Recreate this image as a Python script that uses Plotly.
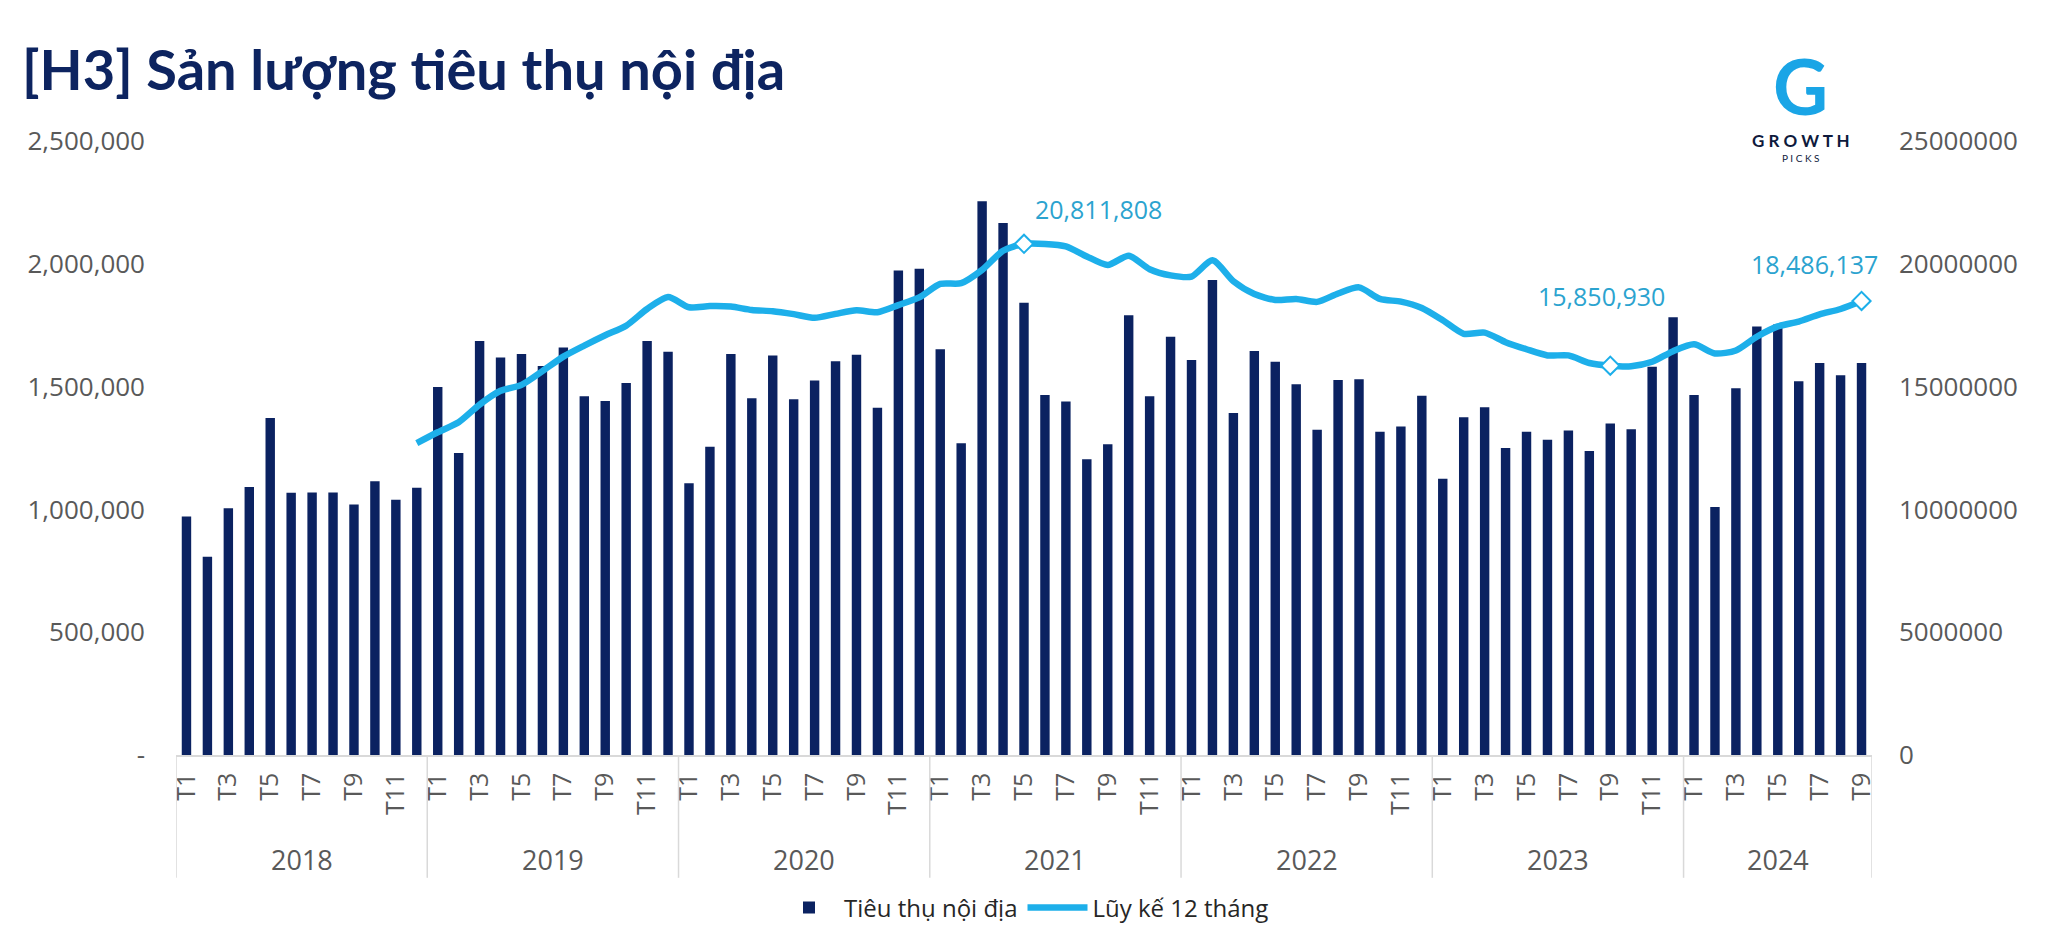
import plotly.graph_objects as go

# ---------------- data ----------------
years = ["2018", "2019", "2020", "2021", "2022", "2023", "2024"]
months_per_year = [12, 12, 12, 12, 12, 12, 9]

consumption_2018 = [971000, 807000, 1005000, 1091000, 1372000, 1068000, 1069000, 1069000, 1020000, 1115000, 1039000, 1088000]
consumption_2019 = [1498000, 1230000, 1686000, 1618000, 1633000, 1584000, 1659000, 1461000, 1441000, 1515000, 1686000, 1642000]
consumption_2020 = [1106000, 1255000, 1633000, 1453000, 1627000, 1449000, 1525000, 1603000, 1630000, 1414000, 1973000, 1980000]
consumption_2021 = [1652000, 1269000, 2255000, 2166000, 1841000, 1466000, 1439000, 1204000, 1265000, 1791000, 1461000, 1703000]
consumption_2022 = [1608000, 1934000, 1392000, 1645000, 1601000, 1510000, 1324000, 1527000, 1530000, 1316000, 1338000, 1463000]
consumption_2023 = [1125000, 1375000, 1416000, 1250000, 1316000, 1284000, 1321000, 1238000, 1350000, 1326000, 1581000, 1782000]
consumption_2024 = [1466000, 1010000, 1493000, 1745000, 1753000, 1522000, 1596000, 1546000, 1596000]

rolling_2018 = [None] * 11 + [12700000]
rolling_2019 = [13140000, 13550000, 14270000, 14830000, 15070000, 15630000, 16220000, 16670000, 17090000, 17480000, 18160000, 18650000]
rolling_2020 = [18230000, 18280000, 18260000, 18120000, 18070000, 17950000, 17800000, 17960000, 18110000, 18030000, 18320000, 18630000]
rolling_2021 = [19180000, 19210000, 19750000, 20530000, 20811808, 20810000, 20710000, 20300000, 19950000, 20330000, 19780000, 19530000]
rolling_2022 = [19480000, 20140000, 19290000, 18770000, 18530000, 18570000, 18450000, 18790000, 19040000, 18570000, 18460000, 18200000]
rolling_2023 = [17700000, 17150000, 17200000, 16810000, 16520000, 16270000, 16270000, 15960000, 15850930, 15830000, 16010000, 16440000]
rolling_2024 = [16720000, 16350000, 16470000, 17030000, 17450000, 17650000, 17940000, 18160000, 18486137]

highlight_year_month = [("2021", 5), ("2023", 9), ("2024", 9)]

left_tick_vals = [0, 500000, 1000000, 1500000, 2000000, 2500000]
left_tick_text = ["-", "500,000", "1,000,000", "1,500,000", "2,000,000", "2,500,000"]
right_tick_vals = [0, 5000000, 10000000, 15000000, 20000000, 25000000]
right_tick_text = ["0", "5000000", "10000000", "15000000", "20000000", "25000000"]

# ---------------- assemble ----------------
consumption = (consumption_2018 + consumption_2019 + consumption_2020 + consumption_2021
               + consumption_2022 + consumption_2023 + consumption_2024)
rolling = (rolling_2018 + rolling_2019 + rolling_2020 + rolling_2021
           + rolling_2022 + rolling_2023 + rolling_2024)

x_idx = []
month_lbl = []
year_start = {}
i = 0
for y, n in zip(years, months_per_year):
    year_start[y] = i
    for m in range(1, n + 1):
        x_idx.append(i)
        month_lbl.append(f"T{m}")
        i += 1

tick_vals = [x for x, m in zip(x_idx, month_lbl) if int(m[1:]) % 2 == 1]
tick_text = [m for m in month_lbl if int(m[1:]) % 2 == 1]

BAR = "#0B2261"
LINE = "#1DAFEA"
LABEL = "#2BA3CF"
GRID = "#D9D9D9"
TICK = "#595959"
FONT = "Open Sans"

W, H = 2048, 951
ML, MR, MT, MB = 176, 176, 141, 196
PW, PH = W - ML - MR, H - MT - MB


def px_to_paper(px, py):
    return (px - ML) / PW, (H - MB - py) / PH


fig = go.Figure()
fig.add_trace(go.Bar(
    x=x_idx, y=consumption, name="Tiêu thụ nội địa",
    marker=dict(color=BAR, line=dict(width=0)),
    yaxis="y",
))
fig.add_trace(go.Scatter(
    x=x_idx, y=rolling, name="Lũy kế 12 tháng", mode="lines",
    line=dict(color=LINE, width=6.5, shape="spline", smoothing=0.7),
    yaxis="y2", connectgaps=False,
))

hx = [year_start[y] + m - 1 for y, m in highlight_year_month]
hy = [rolling[k] for k in hx]
fig.add_trace(go.Scatter(
    x=hx, y=hy, mode="markers", showlegend=False,
    marker=dict(symbol="diamond", size=14, color="white", line=dict(color=LINE, width=2)),
    yaxis="y2",
))

label_shifts = [(74, 35), (-9, 70), (-47, 37)]
for xv, yv, (dx, dy) in zip(hx, hy, label_shifts):
    fig.add_annotation(
        x=xv, y=yv, xref="x", yref="y2", text=f"{yv:,}", showarrow=False,
        xshift=dx, yshift=dy, font=dict(family=FONT, size=25, color=LABEL),
    )

# year group labels and separators
bounds = [year_start[y] - 0.5 for y in years] + [len(x_idx) - 0.5]
for k, y in enumerate(years):
    center = (bounds[k] + bounds[k + 1]) / 2
    fig.add_annotation(
        x=center, y=-0.171, xref="x", yref="paper", text=y, showarrow=False,
        font=dict(family=FONT, size=27, color=TICK), yanchor="middle",
    )
for b in bounds:
    fig.add_shape(type="line", xref="x", yref="paper", x0=b, x1=b, y0=0, y1=-0.2,
                  line=dict(color=GRID, width=1.5))

# logo
gx, gy = px_to_paper(1800, 86)
fig.add_annotation(x=gx, y=gy, xref="paper", yref="paper", xanchor="center", yanchor="middle",
                   text="<b>G</b>", showarrow=False, font=dict(family="Lato", size=76, color="#1AA5E6"))
tx, ty = px_to_paper(1801, 140)
fig.add_annotation(x=tx, y=ty, xref="paper", yref="paper", xanchor="center", yanchor="middle",
                   text="<b>G R O W T H</b>", showarrow=False, font=dict(family="Lato", size=17, color="#0E1A3C"))
px_, py_ = px_to_paper(1801, 158)
fig.add_annotation(x=px_, y=py_, xref="paper", yref="paper", xanchor="center", yanchor="middle",
                   text="P I C K S", showarrow=False, font=dict(family="Lato", size=10, color="#0E1A3C"))

fig.update_layout(
    width=W, height=H,
    margin=dict(l=ML, r=MR, t=MT, b=MB),
    paper_bgcolor="white", plot_bgcolor="white",
    font=dict(family=FONT, color=TICK),
    title=dict(text="<b>[H3] Sản lượng tiêu thụ nội địa</b>", x=22 / W, xanchor="left",
               y=1 - 70 / H, yanchor="middle", xref="container", yref="container",
               font=dict(family="Lato", size=56, color="#0D2460")),
    bargap=0.55,
    showlegend=True,
    legend=dict(orientation="h", x=0.5, xanchor="center", y=-0.249, yanchor="middle",
                font=dict(family=FONT, size=24, color="#262626"), itemwidth=60,
                traceorder="normal"),
    xaxis=dict(
        range=[-0.5, len(x_idx) - 0.5], tickmode="array", tickvals=tick_vals, ticktext=tick_text,
        tickangle=-90, tickfont=dict(family=FONT, size=25, color=TICK),
        showgrid=False, zeroline=False, showline=True, linecolor=GRID, linewidth=1.5,
        ticks="", ticklabelstandoff=6,
    ),
    yaxis=dict(
        range=[0, 2500000], tickmode="array", tickvals=left_tick_vals, ticktext=left_tick_text,
        showgrid=False, zeroline=False, showline=False,
        tickfont=dict(family=FONT, size=26, color=TICK), ticklabelstandoff=30,
    ),
    yaxis2=dict(
        range=[0, 25000000], tickmode="array", tickvals=right_tick_vals, ticktext=right_tick_text,
        overlaying="y", side="right", showgrid=False, zeroline=False, showline=False,
        tickfont=dict(family=FONT, size=26, color=TICK), ticklabelstandoff=26,
    ),
)

fig.write_html("out.html", config={"displayModeBar": False},
               post_script="document.body.style.margin='0';")
